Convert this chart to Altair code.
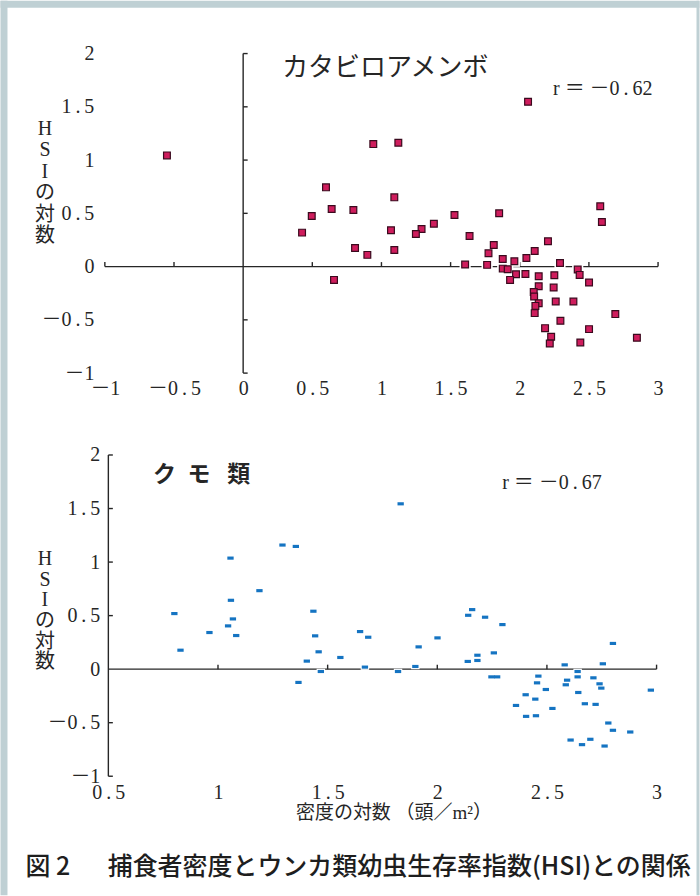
import altair as alt
import pandas as pd

# ---------------- data ----------------
top_x = [-0.551, 0.599, 0.640, 0.496, 0.426, 0.657, 2.060, 0.941, 1.122, 1.093,
         0.797, 1.528, 1.851, 2.582, 2.594, 1.379, 1.290, 1.249, 1.069, 1.637,
         0.809, 0.898, 1.093, 2.204, 1.812, 1.774, 2.108, 2.048, 1.877, 1.961,
         2.291, 1.605, 1.764, 1.877, 1.913, 2.419, 2.433, 1.973, 2.041, 1.930,
         2.137, 2.250, 2.501, 2.137, 2.245, 2.101, 2.104, 2.137, 2.113, 2.260,
         2.388, 2.108, 2.691, 2.294, 2.183, 2.501, 2.227, 2.217, 2.438, 2.847]
top_y = [1.044, 0.744, 0.541, 0.475, 0.319, -0.125, 1.547, 1.150, 1.163, 0.650,
         0.531, 0.484, 0.500, 0.566, 0.419, 0.403, 0.353, 0.306, 0.341, 0.288,
         0.175, 0.110, 0.156, 0.238, 0.203, 0.125, 0.147, 0.081, 0.072, 0.050,
         0.034, 0.019, 0.016, -0.019, -0.025, -0.028, -0.078, -0.072, -0.069, -0.125,
         -0.091, -0.081, -0.150, -0.184, -0.197, -0.238, -0.281, -0.344, -0.369, -0.328,
         -0.328, -0.437, -0.446, -0.509, -0.578, -0.587, -0.659, -0.722, -0.712, -0.668]

bot_x = [0.801, 0.829, 0.961, 1.057, 1.059, 1.068, 1.046, 1.083, 1.189, 1.294,
         1.355, 1.435, 1.443, 1.459, 1.405, 1.469, 1.367, 1.558, 1.833, 1.648,
         1.685, 1.670, 1.821, 1.900, 1.915, 2.001, 2.141, 2.159, 2.218, 2.297,
         2.139, 2.183, 2.183, 2.258, 2.247, 2.273, 2.461, 2.455, 2.495, 2.403,
         2.447, 2.359, 2.405, 2.450, 2.525, 2.581, 2.592, 2.586, 2.640, 2.640,
         2.643, 2.712, 2.740, 2.748, 2.673, 2.722, 2.755, 2.801, 2.780, 2.801,
         2.880, 2.974, 2.608, 2.660, 2.698, 2.763]
bot_y = [0.519, 0.177, 0.342, 1.037, 0.643, 0.469, 0.404, 0.314, 0.733, 1.159,
         1.146, 0.541, 0.311, 0.162, 0.075, -0.022, -0.124, 0.109, 1.544, 0.351,
         0.298, 0.019, -0.022, 0.025, 0.208, 0.292, 0.503, 0.556, 0.485, 0.416,
         0.072, 0.130, 0.081, 0.152, -0.072, -0.072, -0.065, -0.128, -0.190, -0.239,
         -0.280, -0.339, -0.441, -0.435, -0.367, 0.040, -0.103, -0.146, -0.022, -0.072,
         -0.218, -0.081, -0.137, -0.177, -0.323, -0.329, 0.050, 0.240, -0.503, -0.571,
         -0.587, -0.196, -0.662, -0.705, -0.655, -0.718]

top_xlabels = [-1, -0.5, 0, 0.5, 1, 1.5, 2, 2.5, 3]
top_xticks = [-1, -0.5, 0.5, 1, 1.5, 2, 2.5, 3]
top_yticks = [-1, -0.5, 0.5, 1, 1.5, 2]
bot_xlabels = [0.5, 1, 1.5, 2, 2.5, 3]
bot_xticks = [1, 1.5, 2, 2.5, 3]
bot_yticks = [-1, -0.5, 0.5, 1, 1.5, 2]
y_labels = [-1, -0.5, 0, 0.5, 1, 1.5, 2]

title_top = "カタビロアメンボ"
title_bot = "ク\u2002モ\u2002 類"
r_top = "r ＝ －0\u2009.\u200962"
r_bot = "r ＝ －0\u2009.\u200967"
y_title = ["H", "S", "I", "の", "対", "数"]
x_title = "密度の対数 （頭／m²）"
caption = "図 2　\u2002捕食者密度とウンカ類幼虫生存率指数(HSI)との関係"

# ---------------- style ----------------
SERIF = "Liberation Serif, Noto Sans CJK JP"
SANS = "Noto Sans CJK JP"
INK = "#262626"
FRAME = "#bfd0d4"
LBL = "replace(replace(datum.label, '.', '\u2009.\u2009'), '\u2212', '\uff0d')"


def make_axes(xlabels, x_title_text, x_lpad, y_lpad, ytitle_y, ytitle_lh):
    x_axis = alt.Axis(values=xlabels, format="~g", labelExpr=LBL, domain=False, ticks=False,
                      tickSize=0, grid=False, labelFlush=False, labelOverlap=False,
                      labelPadding=x_lpad, labelFont=SERIF, labelFontSize=20,
                      labelColor=INK, title=x_title_text, titleFont=SERIF,
                      titleFontSize=19, titleFontWeight="normal", titleColor=INK,
                      titleX=289, titleY=36, titleAlign="center", titleBaseline="middle")
    y_axis = alt.Axis(values=y_labels, format="~g", labelExpr=LBL, domain=False, ticks=False,
                      tickSize=0, grid=False, labelFlush=False, labelOverlap=False,
                      labelPadding=y_lpad, labelFont=SERIF, labelFontSize=20,
                      labelColor=INK, title=y_title, titleAngle=0, titleX=-60.5,
                      titleY=ytitle_y, titleAlign="center", titleBaseline="top",
                      titleLineHeight=ytitle_lh, titleFont=SERIF, titleFontSize=20,
                      titleFontWeight="normal", titleColor=INK)
    return x_axis, y_axis


def panel(px, py, xdom, ydom, W, H, xticks, yticks, x_axis_y0, y_axis_x0, x_start,
          x_axis, y_axis, marker):
    xs = alt.Scale(domain=xdom, nice=False, zero=False)
    ys = alt.Scale(domain=ydom, nice=False, zero=False)
    xpx = W / (xdom[1] - xdom[0])
    ypx = H / (ydom[1] - ydom[0])
    tx = 4.5 / ypx   # vertical tick length in data units
    ty = 4.5 / xpx   # horizontal tick length in data units

    def X(f):
        return alt.X(f, scale=xs, axis=x_axis)

    def Y(f):
        return alt.Y(f, scale=ys, axis=y_axis)

    lines = pd.DataFrame({
        "x": [x_start, y_axis_x0], "x2": [xdom[1], y_axis_x0],
        "y": [x_axis_y0, ydom[0]], "y2": [x_axis_y0, ydom[1]],
    })
    ticks = pd.DataFrame({
        "x": list(xticks) + [y_axis_x0] * len(yticks),
        "x2": list(xticks) + [y_axis_x0 + ty] * len(yticks),
        "y": [x_axis_y0] * len(xticks) + list(yticks),
        "y2": [x_axis_y0 + tx] * len(xticks) + list(yticks),
    })
    pts = pd.DataFrame({"x": px, "y": py})

    rule_kw = dict(color=INK, strokeWidth=1.4)
    l_lines = alt.Chart(lines).mark_rule(**rule_kw).encode(
        x=X("x:Q"), x2="x2:Q", y=Y("y:Q"), y2="y2:Q")
    l_ticks = alt.Chart(ticks).mark_rule(**rule_kw).encode(
        x=X("x:Q"), x2="x2:Q", y=Y("y:Q"), y2="y2:Q")

    if marker == "square":
        halo = alt.Chart(pts).mark_square(size=125, color="white", opacity=1)
        dots = alt.Chart(pts).mark_square(size=46, fill="#cf1d5d", stroke="#3a0a1e",
                                          strokeWidth=1.2, opacity=1, filled=True)
    else:
        halo = alt.Chart(pts).mark_point(shape="M-1,-0.65H1V0.65H-1Z", size=72,
                                         fill="white", filled=True, opacity=1,
                                         strokeWidth=0)
        dots = alt.Chart(pts).mark_point(shape="M-1,-0.5H1V0.5H-1Z", size=40,
                                         fill="#1574c2", filled=True, opacity=1,
                                         strokeWidth=0)
    halo = halo.encode(x=X("x:Q"), y=Y("y:Q"))
    dots = dots.encode(x=X("x:Q"), y=Y("y:Q"))

    def text_layer(x, y, s, **kw):
        df = pd.DataFrame({"x": [x], "y": [y], "t": [s]})
        return alt.Chart(df).mark_text(**kw).encode(x=X("x:Q"), y=Y("y:Q"), text="t:N")

    return [l_lines, l_ticks, halo, dots], text_layer


# ---------------- top panel ----------------
TW, TH = 554, 320
tx_axis, ty_axis = make_axes(top_xlabels, "", 5, 11, 65, 21.5)
t_layers, t_text_layer = panel(top_x, top_y, [-1, 3], [-1, 2], TW, TH, top_xticks,
                               top_yticks, 0, 0, -1, tx_axis, ty_axis, "square")
one = pd.DataFrame({"k": [0]})
frame = [
    alt.Chart(one).mark_rect(color=FRAME).encode(
        x=alt.value(-104.5), x2=alt.value(-97.5), y=alt.value(-53), y2=alt.value(843)),
    alt.Chart(one).mark_rect(color=FRAME).encode(
        x=alt.value(-104.5), x2=alt.value(595.5), y=alt.value(-53), y2=alt.value(-46)),
    alt.Chart(one).mark_rect(color=FRAME).encode(
        x=alt.value(592.5), x2=alt.value(595.5), y=alt.value(-53), y2=alt.value(843)),
]
t_text = [
    t_text_layer(0.282, 1.862, title_top, font=SANS, fontSize=26, align="left",
                 baseline="middle", color=INK),
    t_text_layer(2.960, 1.665, r_top, font=SERIF, fontSize=20, align="right",
                 baseline="middle", color=INK),
]
top = alt.layer(*t_layers, *t_text, *frame).properties(width=TW, height=TH)

# ---------------- bottom panel ----------------
BW, BH = 552.5, 321.7
bx_axis, by_axis = make_axes(bot_xlabels, x_title, 6, 5, 94, 20.6)
b_layers, b_text_layer = panel(bot_x, bot_y, [0.484, 3], [-1, 2], BW, BH, bot_xticks,
                               bot_yticks, 0, 0.5, 0.5, bx_axis, by_axis, "rect")
b_text = [
    b_text_layer(0.704, 1.810, title_bot, font=SANS, fontSize=23, fontWeight="bold",
                 align="left", baseline="middle", color=INK),
    b_text_layer(2.750, 1.743, r_bot, font=SERIF, fontSize=20, align="right",
                 baseline="middle", color=INK),
    b_text_layer(0.122, -1.845, caption, font=SANS, fontSize=25, fontWeight=500,
                 align="left", baseline="middle", color="#1e1e1e"),
]
bottom = alt.layer(*b_layers, *b_text).properties(width=BW, height=BH)

chart = alt.vconcat(top, bottom, spacing=82, bounds="flush").properties(
    padding=0, background="white"
).configure_view(strokeWidth=0)

chart.save("out.html", embed_options={"renderer": "svg", "actions": False})
